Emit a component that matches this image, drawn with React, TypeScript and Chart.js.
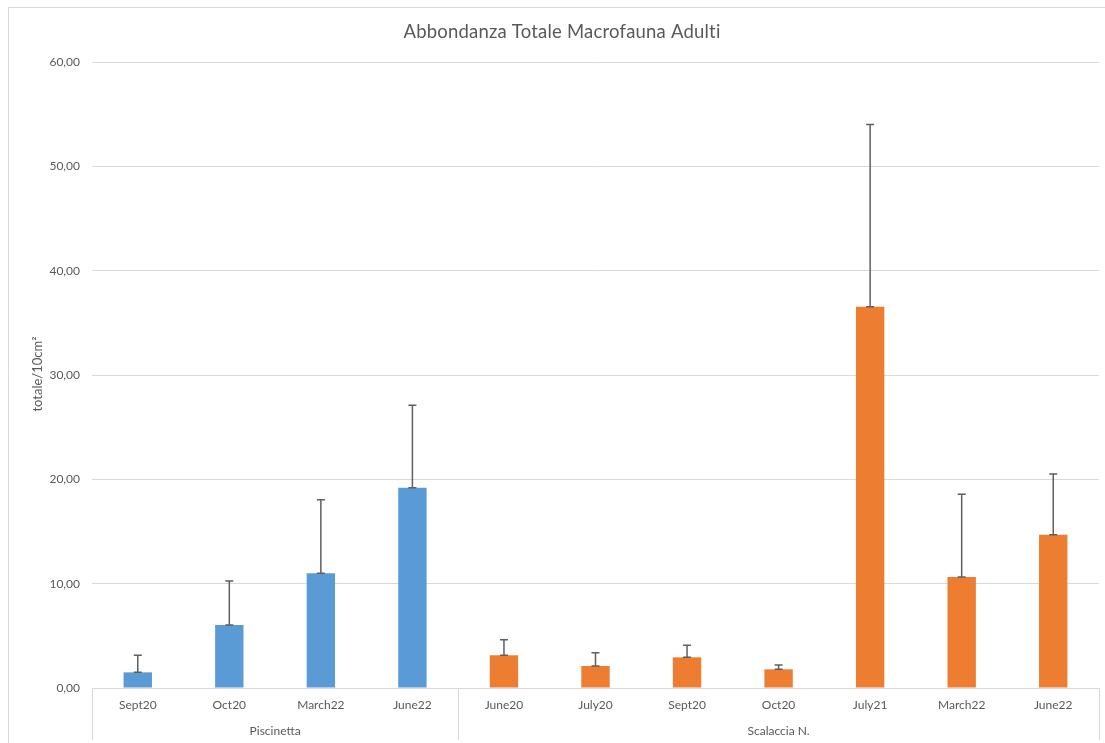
import React, { useEffect, useRef } from "react";
import { Chart, registerables } from "chart.js";

Chart.register(...registerables);

// Sampling campaigns per site
const piscinettaLabels = ["Sept20", "Oct20", "March22", "June22"];
const scalacciaLabels = ["June20", "July20", "Sept20", "Oct20", "July21", "March22", "June22"];

// Mean adult macrofauna abundance (totale/10cm²)
const piscinettaValues = [1.5, 6.04, 10.99, 19.2];
const scalacciaValues = [3.13, 2.11, 2.94, 1.79, 36.55, 10.65, 14.68];

// Standard deviation (upper error bar)
const piscinettaErrors = [1.63, 4.22, 7.06, 7.9];
const scalacciaErrors = [1.5, 1.28, 1.15, 0.41, 17.45, 7.92, 5.82];

const groupNames = ["Piscinetta", "Scalaccia N."];
const yTicks = [0, 10, 20, 30, 40, 50, 60];

const TEXT = "#595959";
const GRID = "#d9d9d9";
const FONT = "Lato, 'Open Sans', sans-serif";

const labels = [...piscinettaLabels, ...scalacciaLabels];
const values = [...piscinettaValues, ...scalacciaValues];
const errors = [...piscinettaErrors, ...scalacciaErrors];
const colors = [
  ...piscinettaLabels.map(() => "#5b9bd5"),
  ...scalacciaLabels.map(() => "#ed7d31"),
];
const groupSizes = [piscinettaLabels.length, scalacciaLabels.length];

const fmt = (v: number) => v.toFixed(2).replace(".", ",");

const decor = {
  id: "decor",
  beforeDraw(chart: any) {
    const { ctx, width, height } = chart;
    ctx.save();
    ctx.fillStyle = "#ffffff";
    ctx.fillRect(0, 0, width, height);
    // chart frame
    ctx.strokeStyle = GRID;
    ctx.lineWidth = 1;
    ctx.beginPath();
    ctx.moveTo(8.5, height + 5);
    ctx.lineTo(8.5, 7.5);
    ctx.lineTo(width + 5, 7.5);
    ctx.stroke();
    ctx.restore();
  },
  afterDatasetsDraw(chart: any) {
    const { ctx, chartArea } = chart;
    const x = chart.scales.x;
    const y = chart.scales.y;
    ctx.save();

    // error bars (plus direction)
    ctx.strokeStyle = "#5f5f5f";
    ctx.lineWidth = 1.5;
    values.forEach((v, i) => {
      const px = x.getPixelForValue(i);
      const y0 = y.getPixelForValue(v);
      const y1 = y.getPixelForValue(v + errors[i]);
      const cap = 4;
      ctx.beginPath();
      ctx.moveTo(px, y0);
      ctx.lineTo(px, y1);
      ctx.moveTo(px - cap, y1);
      ctx.lineTo(px + cap, y1);
      ctx.moveTo(px - cap, y0);
      ctx.lineTo(px + cap, y0);
      ctx.stroke();
    });

    // category axis line and group separators
    const step = x.getPixelForValue(1) - x.getPixelForValue(0);
    const bottom = chartArea.bottom;
    ctx.strokeStyle = GRID;
    ctx.lineWidth = 1;
    ctx.beginPath();
    ctx.moveTo(chartArea.left, Math.round(bottom) + 0.5);
    ctx.lineTo(chartArea.right, Math.round(bottom) + 0.5);
    const bounds: number[] = [x.getPixelForValue(0) - step / 2];
    let idx = 0;
    groupSizes.forEach((n) => {
      idx += n;
      bounds.push(x.getPixelForValue(idx - 1) + step / 2);
    });
    bounds.forEach((bx) => {
      const xx = Math.round(bx) + 0.5;
      ctx.moveTo(xx, bottom);
      ctx.lineTo(xx, bottom + 52);
    });
    ctx.stroke();

    // group labels
    ctx.fillStyle = TEXT;
    ctx.font = `12px ${FONT}`;
    ctx.textAlign = "center";
    ctx.textBaseline = "middle";
    groupNames.forEach((g, gi) => {
      ctx.fillText(g, (bounds[gi] + bounds[gi + 1]) / 2, bottom + 43);
    });

    // title
    ctx.font = `18.5px ${FONT}`;
    (ctx as any).letterSpacing = "0.2px";
    ctx.fillText("Abbondanza Totale Macrofauna Adulti", 562, 32);
    (ctx as any).letterSpacing = "0px";

    // y axis title
    ctx.font = `13px ${FONT}`;
    ctx.translate(38, 374);
    ctx.rotate(-Math.PI / 2);
    ctx.fillText("totale/10cm²", 0, 0);

    ctx.restore();
  },
};

export default function App() {
  const ref = useRef<HTMLCanvasElement | null>(null);

  useEffect(() => {
    if (!ref.current) return;
    const chart = new Chart(ref.current, {
      type: "bar",
      data: {
        labels,
        datasets: [
          {
            data: values,
            backgroundColor: colors,
            borderWidth: 0,
            barPercentage: 0.31,
            categoryPercentage: 1,
          },
        ],
      },
      options: {
        animation: false,
        responsive: false,
        layout: { padding: { top: 62, right: 6, left: 0, bottom: 0 } },
        plugins: {
          legend: { display: false },
          title: { display: false },
          tooltip: { enabled: false },
        },
        scales: {
          x: {
            grid: { display: false, drawTicks: false },
            border: { display: false },
            ticks: {
              color: TEXT,
              font: { family: FONT, size: 12 },
              padding: 10,
              maxRotation: 0,
              autoSkip: false,
            },
            afterFit(scale: any) {
              scale.height = 55;
            },
          },
          y: {
            min: 0,
            max: 60,
            afterBuildTicks(scale: any) {
              scale.ticks = yTicks.map((v) => ({ value: v }));
            },
            grid: { color: GRID, lineWidth: 1, drawTicks: false },
            border: { display: false },
            ticks: {
              color: TEXT,
              font: { family: FONT, size: 12 },
              padding: 12,
              callback: (v: any) => fmt(Number(v)),
            },
            afterFit(scale: any) {
              scale.width = 92;
            },
          },
        },
      },
      plugins: [decor],
    });
    return () => chart.destroy();
  }, []);

  return (
    <div style={{ position: "absolute", left: 0, top: 0, width: 1105, height: 743 }}>
      <canvas ref={ref} width={1105} height={743} style={{ display: "block" }} />
    </div>
  );
}
